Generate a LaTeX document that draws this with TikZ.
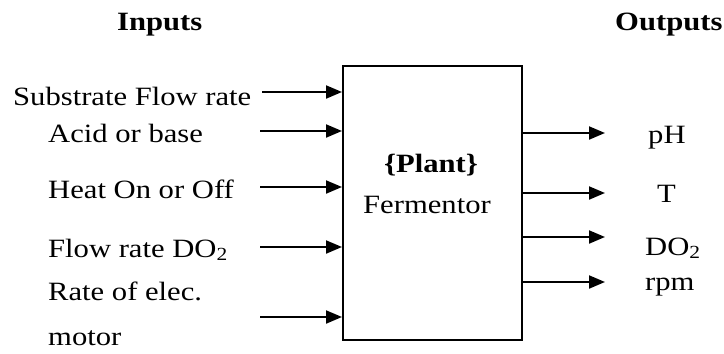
\documentclass[tikz,border=0pt]{standalone}
\usepackage{fontspec}
\setmainfont{Liberation Serif}[FakeStretch=1.16]
\usetikzlibrary{arrows.meta}
\begin{document}
\begin{tikzpicture}[x=1bp,y=-1bp,
  lbl/.style={anchor=base west,inner sep=0pt,font=\fontsize{26.5}{30}\selectfont},
  hdr/.style={anchor=base west,inner sep=0pt,font=\fontsize{26.5}{30}\selectfont\bfseries},
  arr/.style={line width=2bp,-{Triangle[length=16bp,width=13bp]}},
  boxst/.style={draw,line width=2bp,minimum width=179bp,minimum height=274bp,inner sep=0pt}]
\useasboundingbox (0,0) rectangle (724,353);
% headers
\node[hdr] (hin) at (117,30) {Inputs};
\node[hdr] (hout) at (615,30) {Outputs};
% plant box
\node[boxst] (plant) at (432.5,203) {};
\node[anchor=base,inner sep=0pt,font=\fontsize{26.5}{30}\selectfont\bfseries] (pl) at (431,172) {\{Plant\}};
\node[anchor=base,inner sep=0pt,font=\fontsize{26.5}{30}\selectfont] (fe) at (427,213) {Fermentor};
% input labels
\node[lbl] (l1) at (13,105) {Substrate Flow rate};
\node[lbl] (l2) at (48,142) {Acid or base};
\node[lbl] (l3) at (48,198) {Heat On or Off};
\node[lbl] (l4) at (48,257) {Flow rate DO\textsubscript{2}};
\node[lbl] (l5) at (48,300) {Rate of elec.};
\node[lbl] (l6) at (48,345) {motor};
% input arrows
\coordinate (i1) at (262,92);
\coordinate (i2) at (260,131);
\coordinate (i3) at (260,187);
\coordinate (i4) at (260,247);
\coordinate (i5) at (260,317);
\foreach \c in {i1,i2,i3,i4,i5}
  \draw[arr] (\c) -- (\c -| plant.west);
% output arrows
\coordinate (o1) at (605,133);
\coordinate (o2) at (605,193);
\coordinate (o3) at (605,237);
\coordinate (o4) at (605,282);
\foreach \c in {o1,o2,o3,o4}
  \draw[arr] (\c -| plant.east) -- (\c);
% output labels
\node[lbl] (r1) at (648,143) {pH};
\node[lbl] (r2) at (657,202) {T};
\node[lbl] (r3) at (645,255) {DO\textsubscript{2}};
\node[lbl] (r4) at (645,290) {rpm};
\end{tikzpicture}
\end{document}
